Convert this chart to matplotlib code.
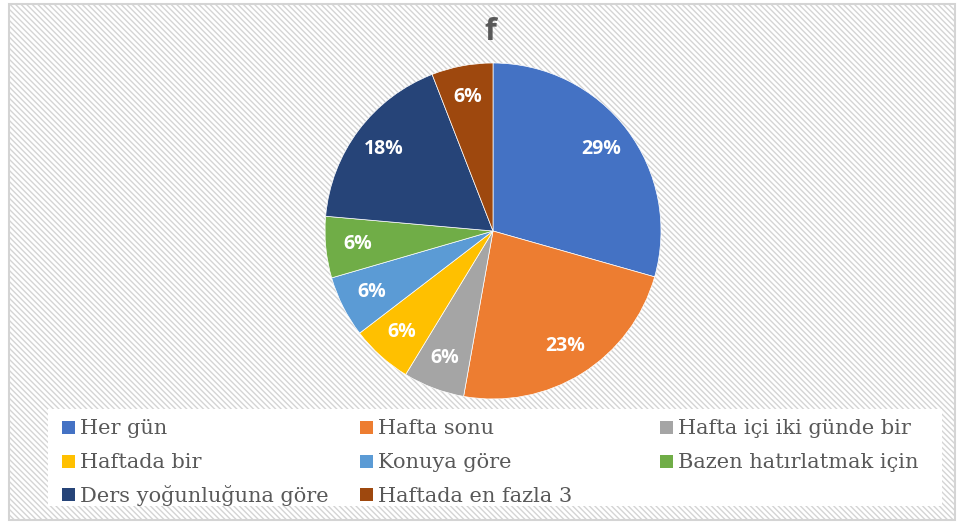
import matplotlib
matplotlib.use("Agg")
import matplotlib.pyplot as plt
from matplotlib.patches import Rectangle
import numpy as np

categories = ["Her gün", "Hafta sonu", "Hafta içi iki günde bir", "Haftada bir",
              "Konuya göre", "Bazen hatırlatmak için", "Ders yoğunluğuna göre",
              "Haftada en fazla 3"]
percents = [29.4, 23.4, 5.9, 5.9, 5.9, 5.9, 17.7, 5.9]
colors = ["#4472C4", "#ED7D31", "#A5A5A5", "#FFC000", "#5B9BD5", "#70AD47",
          "#264478", "#9E480E"]
title = "f"

W, H = 960, 525
plt.rcParams['hatch.linewidth'] = 1.0
plt.rcParams['hatch.color'] = "#f2f2f2"
fig = plt.figure(figsize=(W/100, H/100), dpi=100)
fig.patch.set_facecolor("white")

def fx(x): return x / W
def fy(y): return 1 - y / H

# chart area with diagonal pattern
bg = Rectangle((fx(9), fy(520)), fx(955) - fx(9), fy(4) - fy(520),
               transform=fig.transFigure, facecolor="white", edgecolor="#d4d4d4",
               hatch="\\\\\\\\\\\\", linewidth=1.5, zorder=-10)
fig.patches.append(bg)
# legend white panel
lg = Rectangle((fx(48), fy(506)), fx(942) - fx(48), fy(409) - fy(506),
               transform=fig.transFigure, facecolor="white", edgecolor="none", zorder=-5)
fig.patches.append(lg)

cx, cy, r = 493, 231, 168
ax = fig.add_axes([fx(cx - r), fy(cy + r), fx(2*r), fy(0) - fy(2*r)])
ax.set_zorder(5)
ax.patch.set_visible(False)
wedges, texts, autotexts = ax.pie(
    percents, colors=colors, startangle=90, counterclock=False,
    autopct=lambda p: f"{p:.0f}%", pctdistance=0.81,
    wedgeprops=dict(edgecolor="white", linewidth=0.5),
    textprops=dict(color="white", fontsize=14, fontweight="bold", family="Open Sans"))
ax.set_xlim(-1, 1); ax.set_ylim(-1, 1)
ax.set_aspect("equal")
ax.axis("off")

fig.text(fx(490), fy(32), title, ha="center", va="center", fontsize=22,
         fontweight="bold", color="#595959", family="Open Sans", zorder=6)

# legend, laid out row by row in three columns
col_x = [62, 360, 660]
row_y = [427, 461, 494]
sq = 13
for i, (lab, c) in enumerate(zip(categories, colors)):
    row, col = divmod(i, 3)
    x0, y0 = col_x[col], row_y[row]
    fig.patches.append(Rectangle((fx(x0), fy(y0 + sq/2)), fx(sq), fy(0) - fy(sq),
                                 transform=fig.transFigure, facecolor=c,
                                 edgecolor="none", zorder=6))
    fig.text(fx(x0 + sq + 5), fy(y0), lab, ha="left", va="center_baseline",
             fontsize=15, family="DejaVu Serif", color="#595959", zorder=6)

fig.savefig("out.png", dpi=100)
